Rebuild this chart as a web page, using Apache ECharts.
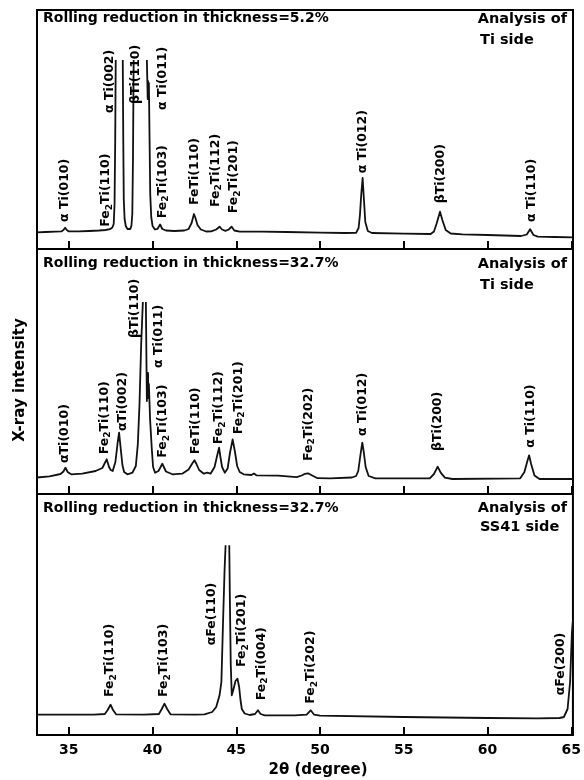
<!DOCTYPE html>
<html><head><meta charset="utf-8">
<script src="https://cdn.jsdelivr.net/npm/echarts@6/dist/echarts.min.js"></script>
<style>html,body{margin:0;padding:0;background:#fff}#c{width:584px;height:780px}</style>
</head><body><div id="c"></div>
<script>
// ---------------- data ----------------
const xTickLabels = [35, 40, 45, 50, 55, 60, 65];

// [2θ (deg), intensity (arb.)] ; null = recorder off-scale (open top)
const p1Trace = [[33.1,16.7],[33.6,17],[34.2,17.3],[34.55,17.6],[34.68,19],[34.78,21.3],[34.88,19],[35.0,17.6],[35.6,17.7],[36.2,18],[36.8,18.5],[37.2,19],[37.45,19.8],[37.6,21.5],[37.68,25],[37.73,45],[37.77,110],[37.8,189],[38.0,null],[38.22,189],[38.25,110],[38.28,50],[38.33,30],[38.4,23],[38.5,20],[38.58,19.3],[38.67,20],[38.74,23.5],[38.79,35],[38.83,90],[38.87,189],[39.3,null],[39.66,189],[39.69,165],[39.71,150],[39.73,168],[39.76,150],[39.78,166],[39.82,110],[39.86,55],[39.92,32],[40.0,23],[40.14,19.5],[40.3,20.2],[40.45,24.5],[40.58,20],[40.8,18.5],[41.3,18],[41.9,18.5],[42.15,20],[42.33,26],[42.47,35],[42.56,31],[42.68,24],[42.88,19.5],[43.2,17.5],[43.5,17.6],[43.8,19.5],[44.0,22.3],[44.15,19.5],[44.35,18.2],[44.55,19.5],[44.72,22.3],[44.88,18.5],[45.2,17.3],[46.5,17.3],[48,17],[50,16.3],[51.5,16],[52.15,16.2],[52.3,21],[52.38,34],[52.46,55],[52.54,71],[52.62,49],[52.7,27],[52.85,18],[53.1,16],[55,15.3],[56.6,15],[56.8,17.5],[56.95,25],[57.16,37.3],[57.3,29],[57.5,19],[57.8,15.5],[58.5,14.7],[60,14],[62.0,13],[62.34,14.5],[62.54,19.7],[62.74,14],[63.0,12.3],[64,12],[65.1,11.7]];

const p2Trace = [[33.1,16.5],[33.85,17.7],[34.5,20],[34.68,22.5],[34.8,26.3],[34.93,22],[35.14,19.7],[35.8,20.3],[36.6,23],[37.0,26],[37.15,31],[37.26,34.7],[37.4,27],[37.5,24],[37.62,23],[37.78,32],[37.92,52],[38.0,61.3],[38.1,45],[38.2,29],[38.3,22],[38.5,19.7],[38.8,21.3],[39.0,28],[39.12,50],[39.22,90],[39.32,150],[39.42,192],[39.5,null],[39.6,192],[39.63,140],[39.66,93],[39.69,121],[39.71,96],[39.73,121],[39.75,96],[39.78,110],[39.85,75],[39.95,46],[40.03,27],[40.15,21.3],[40.35,23],[40.48,27],[40.58,30.3],[40.7,26],[40.8,22.5],[41.18,19.7],[41.77,20.3],[42.15,24.5],[42.35,30],[42.5,33.7],[42.62,30],[42.78,24],[43.06,20.3],[43.26,21.3],[43.46,20.3],[43.7,27],[43.85,38],[43.97,46.3],[44.06,36],[44.15,27],[44.31,21.3],[44.48,25.5],[44.62,41],[44.78,54.7],[44.92,42],[45.05,28],[45.2,22],[45.44,19.7],[45.9,19],[46.05,20.5],[46.2,18.7],[47.5,18.3],[48.6,16.8],[48.9,18.5],[49.1,20.2],[49.28,20.7],[49.5,18.8],[49.85,15.8],[50.6,15.7],[51.9,16.5],[52.15,18],[52.28,23],[52.4,38],[52.52,51.3],[52.6,43],[52.72,27],[52.9,18],[53.3,15.7],[56.55,15.7],[56.8,20],[57.02,27.3],[57.2,21.3],[57.45,16.3],[57.9,15],[61.95,15.7],[62.2,22],[62.36,32],[62.48,38.7],[62.6,30],[62.8,18.5],[63.1,15],[65.1,15]];

const p3Trace = [[33.1,20.3],[35,20.3],[36.5,20.3],[37.15,21],[37.32,25],[37.49,30.3],[37.64,25],[37.82,20.7],[39.5,20.3],[40.38,21],[40.55,26],[40.71,31.3],[40.87,26],[41.07,20.7],[42.5,20.3],[43.1,20.7],[43.56,23],[43.8,28],[44.0,39.7],[44.11,53],[44.22,119.7],[44.3,165],[44.36,189.7],[44.45,null],[44.58,189.7],[44.62,130],[44.67,70],[44.73,39.7],[44.82,45],[44.95,54],[45.07,56.3],[45.17,48],[45.25,35],[45.33,26],[45.5,21.5],[45.8,20],[46.12,21],[46.29,24.7],[46.45,21],[46.7,19.7],[48.5,19.7],[49.2,20.3],[49.44,24.7],[49.65,20.3],[50,19.3],[55,18],[60,17],[63,16.7],[64.3,17],[64.56,18],[64.78,26],[64.93,53],[65.04,103],[65.1,115]];

// peak labels and their 2θ
const p1Labels = ['α Ti(010)','Fe2Ti(110)','α Ti(002)','βTi(110)','α Ti(011)','Fe2Ti(103)','FeTi(110)','Fe2Ti(112)','Fe2Ti(201)','α Ti(012)','βTi(200)','α Ti(110)'];
const p1LabelDeg = [34.78,37.22,37.47,39.0,40.6,40.6,42.5,43.75,44.85,52.56,57.18,62.65];
const p2Labels = ['αTi(010)','Fe2Ti(110)','αTi(002)','βTi(110)','α Ti(011)','Fe2Ti(103)','FeTi(110)','Fe2Ti(112)','Fe2Ti(201)','Fe2Ti(202)','α Ti(012)','βTi(200)','α Ti(110)'];
const p2LabelDeg = [34.78,37.12,38.22,38.95,40.34,40.63,42.55,43.97,45.12,49.3,52.52,57.02,62.55];
const p3Labels = ['Fe2Ti(110)','Fe2Ti(103)','αFe(110)','Fe2Ti(201)','Fe2Ti(004)','Fe2Ti(202)','αFe(200)'];
const p3LabelDeg = [37.44,40.67,43.56,45.33,46.51,49.44,64.38];

const panelTitles = ['Rolling reduction in thickness=5.2%','Rolling reduction in thickness=32.7%','Rolling reduction in thickness=32.7%'];
const panelSides = [['Analysis of','Ti side'],['Analysis of','Ti side'],['Analysis of','SS41 side']];
const yAxisTitle = 'X-ray intensity';
const xAxisTitle = '2θ (degree)';

// ---------------- layout (not data) ----------------
const L = 37, W = 536;
const panels = [
  {top: 10, height: 239, trace: p1Trace, labels: p1Labels, deg: p1LabelDeg,
   labelBase: [27,22.3,136,145,139,30.7,44,42,35.7,75.7,45.7,27], titleY: 18, sideY: [19, 40]},
  {top: 249, height: 245, trace: p2Trace, labels: p2Labels, deg: p2LabelDeg,
   labelBase: [31,39.7,63,156,126,36.3,39.7,49.7,59.7,33,58,43,46.3], titleY: 263, sideY: [264, 285]},
  {top: 494, height: 241, trace: p3Trace, labels: p3Labels, deg: p3LabelDeg,
   labelBase: [38,38,89.7,68,34.7,31.3,39.7], titleY: 508, sideY: [508, 527]}
];
const FONT = '"DejaVu Sans", "Liberation Sans", sans-serif';
const LFONT = '"DejaVu Sans", sans-serif';

const grid = [], xAxis = [], yAxis = [], series = [], graphic = [];
panels.forEach((p, i) => {
  grid.push({left: L, width: W, top: p.top, height: p.height, show: true,
    borderColor: '#000', borderWidth: 2, backgroundColor: 'transparent', containLabel: false});
  xAxis.push({type: 'value', gridIndex: i, min: 33.1, max: 65.1,
    axisLine: {show: true, onZero: false, lineStyle: {color: '#000', width: 2}},
    axisTick: {show: true, inside: true, length: 8, lineStyle: {color: '#000', width: 2}},
    axisLabel: {show: i === 2, customValues: xTickLabels, color: '#000', fontFamily: FONT, fontWeight: 'bold', fontSize: 14, margin: 8},
    splitLine: {show: false}});
  yAxis.push({type: 'value', gridIndex: i, min: 0, max: p.height, show: false, splitLine: {show: false}});
  series.push({type: 'line', xAxisIndex: i, yAxisIndex: i, data: p.trace, showSymbol: false, symbol: 'none',
    connectNulls: false, animation: false, silent: true,
    lineStyle: {color: '#111', width: 1.8, join: 'round'}});
  series.push({type: 'scatter', xAxisIndex: i, yAxisIndex: i, silent: true, animation: false,
    symbol: 'circle', symbolSize: 1, itemStyle: {color: 'rgba(0,0,0,0)'}, z: 5,
    data: p.labels.map((t, k) => ({name: t, value: [p.deg[k], p.labelBase[k]]})),
    label: {show: true, position: 'inside', rotate: 90, align: 'left', verticalAlign: 'middle',
      color: '#000', opacity: 1, fontFamily: LFONT, fontSize: 12.5, fontWeight: 'bold', lineHeight: 16,
      formatter: q => q.name.replace(/Fe2/g, 'Fe{s|2}'),
      rich: {s: {fontSize: 9, fontFamily: LFONT, fontWeight: 'bold', color: '#000', verticalAlign: 'bottom', lineHeight: 9}}}});
  graphic.push({type: 'text', x: L + 6, y: p.titleY, silent: true,
    style: {text: panelTitles[i], fill: '#000', font: 'bold 14px ' + FONT, align: 'left', verticalAlign: 'middle', textAlign: 'left', textVerticalAlign: 'middle'}});
  graphic.push({type: 'text', x: 567, y: p.sideY[0], silent: true,
    style: {text: panelSides[i][0], fill: '#000', font: 'bold 14.5px ' + FONT, align: 'right', verticalAlign: 'middle', textAlign: 'right', textVerticalAlign: 'middle'}});
  graphic.push({type: 'text', x: 480, y: p.sideY[1], silent: true,
    style: {text: panelSides[i][1], fill: '#000', font: 'bold 14.5px ' + FONT, align: 'left', verticalAlign: 'middle', textAlign: 'left', textVerticalAlign: 'middle'}});
});
graphic.push({type: 'text', x: 20, y: 380, rotation: Math.PI / 2, silent: true,
  style: {text: yAxisTitle, fill: '#000', font: 'bold 15px ' + FONT, align: 'center', verticalAlign: 'middle', textAlign: 'center', textVerticalAlign: 'middle'}});
graphic.push({type: 'text', x: 318, y: 770, silent: true,
  style: {text: xAxisTitle, fill: '#000', font: 'bold 15px ' + FONT, align: 'center', verticalAlign: 'middle', textAlign: 'center', textVerticalAlign: 'middle'}});

const chart = echarts.init(document.getElementById('c'), null, {renderer: 'canvas'});
chart.setOption({backgroundColor: '#fff', animation: false, grid, xAxis, yAxis, series, graphic});
</script></body></html>
